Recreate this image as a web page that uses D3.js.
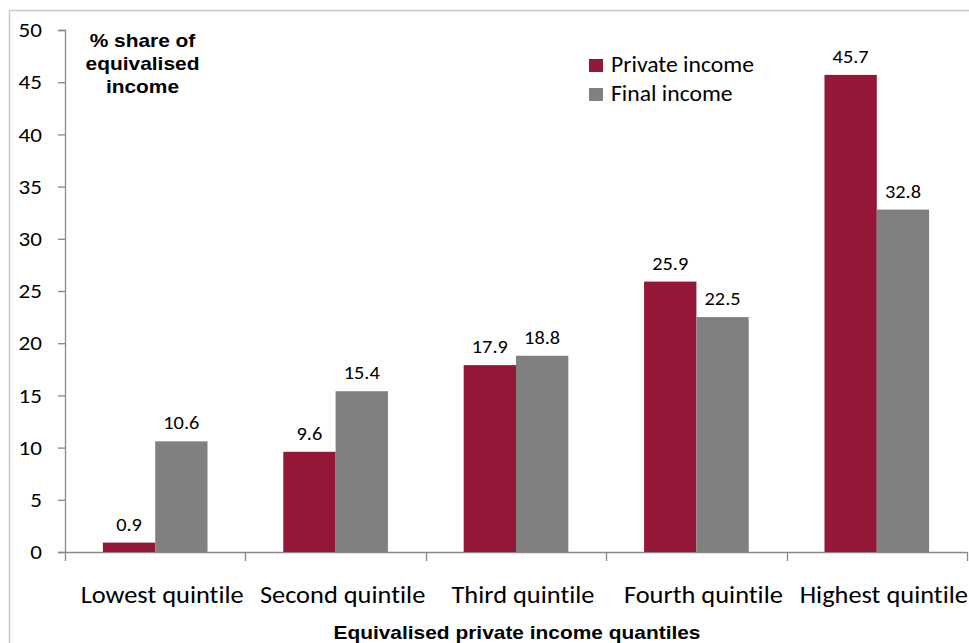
<!DOCTYPE html>
<html>
<head>
<meta charset="utf-8">
<script src="https://cdn.jsdelivr.net/npm/d3@7"></script>
<style>
  body { margin: 0; background: #fff; }
  text { font-family: Carlito, Lato, "Open Sans", sans-serif; fill: #000; font-variant-ligatures: none; }
  .bold { font-family: "Liberation Sans", Arial, sans-serif; font-weight: bold; }
</style>
</head>
<body>
<div id="chart"></div>
<script>
// data
var quintiles = ["Lowest quintile", "Second quintile", "Third quintile", "Fourth quintile", "Highest quintile"];
var seriesNames = ["Private income", "Final income"];
var privateIncome = [0.9, 9.6, 17.9, 25.9, 45.7];
var finalIncome = [10.6, 15.4, 18.8, 22.5, 32.8];
var yTicks = [0, 5, 10, 15, 20, 25, 30, 35, 40, 45, 50];
var colors = ["#941738", "#808080"];

var width = 969, height = 643;
var margin = { left: 65, right: 2, top: 30, bottom: 91 };
var stretch = 1.1; // the original picture is a bit wider than its fonts

var svg = d3.select("#chart").append("svg")
    .attr("width", width)
    .attr("height", height);

// outer frame
svg.append("rect")
    .attr("x", 9.5).attr("y", 10.5)
    .attr("width", 980).attr("height", 660)
    .attr("fill", "none")
    .attr("stroke", "#c8c8c8")
    .attr("stroke-width", 1.5);

var x0 = d3.scaleBand()
    .domain(quintiles)
    .range([margin.left, width - margin.right])
    .paddingInner(0.42)
    .paddingOuter(0.21);

var x1 = d3.scaleBand()
    .domain(seriesNames)
    .range([0, x0.bandwidth()]);

var y = d3.scaleLinear()
    .domain([0, 50])
    .range([height - margin.bottom, margin.top]);

var rows = quintiles.map(function(q, i) {
  return { q: q, vals: [privateIncome[i], finalIncome[i]] };
});

// y axis
var yAxis = svg.append("g")
    .attr("transform", "translate(" + margin.left + ",0)")
    .call(d3.axisLeft(y).tickValues(yTicks).tickSize(7).tickPadding(16));
yAxis.selectAll("text").style("font-size", "21px");

// x axis, ticks sit on the category boundaries
var bounds = d3.range(quintiles.length + 1).map(function(i) {
  return margin.left + i * (width - margin.right - margin.left) / quintiles.length;
});
var xAxis = svg.append("g").attr("class", "xaxis");
xAxis.append("line")
    .attr("x1", margin.left).attr("x2", width - margin.right)
    .attr("y1", y(0) + 0.5).attr("y2", y(0) + 0.5);
xAxis.selectAll("line.tk").data(bounds).enter().append("line")
    .attr("class", "tk")
    .attr("x1", function(d) { return Math.round(d) + 0.5; })
    .attr("x2", function(d) { return Math.round(d) + 0.5; })
    .attr("y1", y(0)).attr("y2", y(0) + 9);
xAxis.selectAll("line").attr("stroke", "#888").attr("stroke-width", 1.3);

svg.selectAll(".domain, .tick line").attr("stroke", "#888").attr("stroke-width", 1.3);

// category labels sit a little right of the band centre
svg.append("g").selectAll("text").data(quintiles).enter().append("text")
    .attr("x", function(d) { return x0(d) + x0.bandwidth() / 2 + 7; })
    .attr("y", y(0) + 51)
    .attr("text-anchor", "middle")
    .style("font-size", "24px")
    .text(function(d) { return d; });

// bars
var groups = svg.append("g").selectAll("g").data(rows).enter().append("g")
    .attr("transform", function(d) { return "translate(" + x0(d.q) + ",0)"; });

groups.selectAll("rect").data(function(d) { return d.vals; }).enter().append("rect")
    .attr("x", function(d, i) { return x1(seriesNames[i]); })
    .attr("y", function(d) { return y(d); })
    .attr("width", x1.bandwidth())
    .attr("height", function(d) { return y(0) - y(d); })
    .attr("fill", function(d, i) { return colors[i]; });

groups.selectAll("text").data(function(d) { return d.vals; }).enter().append("text")
    .attr("x", function(d, i) { return x1(seriesNames[i]) + x1.bandwidth() / 2; })
    .attr("y", function(d) { return y(d) - 12; })
    .attr("text-anchor", "middle")
    .style("font-size", "18.5px")
    .text(function(d) { return d.toFixed(1); });

// y title
var yTitle = ["% share of", "equivalised", "income"];
svg.append("g").selectAll("text").data(yTitle).enter().append("text")
    .attr("class", "bold")
    .attr("x", 142.5)
    .attr("y", function(d, i) { return 47 + i * 23; })
    .attr("text-anchor", "middle")
    .style("font-size", "19px")
    .text(function(d) { return d; });

// x title
svg.append("text")
    .attr("class", "bold")
    .attr("x", 517)
    .attr("y", 639)
    .attr("text-anchor", "middle")
    .style("font-size", "19px")
    .text("Equivalised private income quantiles");

// legend
var legend = svg.append("g").selectAll("g").data(seriesNames).enter().append("g")
    .attr("transform", function(d, i) { return "translate(589," + (59 + i * 29) + ")"; });
legend.append("rect")
    .attr("width", 14).attr("height", 13)
    .attr("fill", function(d, i) { return colors[i]; });
legend.append("text")
    .attr("x", 22).attr("y", 13)
    .style("font-size", "21.5px")
    .text(function(d) { return d; });

// widen every label like in the original
svg.selectAll("text").each(function() {
  var w = this.getComputedTextLength();
  d3.select(this).attr("textLength", w * stretch).attr("lengthAdjust", "spacingAndGlyphs");
});
</script>
</body>
</html>
